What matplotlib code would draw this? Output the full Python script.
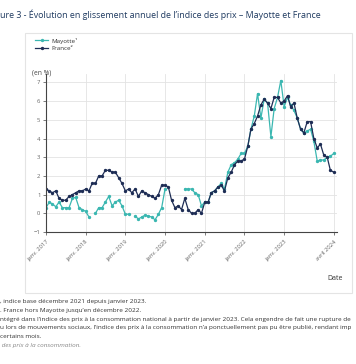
import numpy as np
import pandas as pd
import matplotlib
matplotlib.use('Agg')
import matplotlib.pyplot as plt
from matplotlib.patches import Rectangle

plt.rcParams['font.family'] = ['Open Sans', 'DejaVu Sans']

nan = np.nan

# monthly, janv. 2017 -> avril 2024
months = pd.date_range('2017-01-01', '2024-04-01', freq='MS')

france = [
    1.3, 1.2, 1.1, 1.2, 0.8, 0.7, 0.7, 0.9, 1.0, 1.1, 1.2, 1.2,
    1.3, 1.2, 1.6, 1.6, 2.0, 2.0, 2.3, 2.3, 2.2, 2.2, 1.9, 1.6,
    1.2, 1.3, 1.1, 1.3, 0.9, 1.2, 1.1, 1.0, 0.9, 0.8, 1.0, 1.5,
    1.5, 1.4, 0.7, 0.3, 0.4, 0.2, 0.8, 0.2, 0.0, 0.0, 0.2, 0.0,
    0.6, 0.6, 1.1, 1.2, 1.4, 1.5, 1.2, 1.9, 2.2, 2.6, 2.8, 2.8,
    2.9, 3.6, 4.5, 4.8, 5.2, 5.8, 6.1, 5.9, 5.6, 6.2, 6.2, 5.9,
    6.0, 6.3, 5.7, 5.9, 5.1, 4.5, 4.3, 4.9, 4.9, 4.0, 3.5, 3.7,
    3.1, 3.0, 2.3, 2.2,
]

mayotte = [
    0.3, 0.6, 0.5, 0.35, 0.6, 0.3, 0.3, 0.3, 0.8, 0.85, 0.3, 0.2,
    0.1, -0.2, nan, 0.0, 0.3, 0.3, 0.6, 0.9, 0.4, 0.6, 0.7, 0.4,
    -0.05, -0.05, nan, -0.15, -0.3, -0.2, -0.1, -0.15, -0.2, -0.35, -0.05, 0.3,
    1.3, nan, nan, nan, nan, nan, 1.3, 1.3, 1.3, 1.1, 1.0, 0.4,
    0.6, 0.6, 1.1, 1.2, 1.4, 1.6, 1.3, 2.2, 2.6, 2.7, 2.9, 3.2,
    3.2, 3.6, 4.5, 5.2, 6.4, 5.1, 6.1, 5.9, 4.1, 5.6, 6.2, 7.1,
    5.7, 6.2, 5.8, 5.5, 5.1, 4.5, 4.3, 4.4, 4.5, 3.85, 2.8, 2.85,
    2.85, 3.0, 3.05, 3.2,
]

tick_dates = ['2017-01-01', '2018-01-01', '2019-01-01', '2020-01-01',
              '2021-01-01', '2022-01-01', '2023-01-01', '2024-04-01']
tick_labels = ['janv. 2017', 'janv. 2018', 'janv. 2019', 'janv. 2020',
               'janv. 2021', 'janv. 2022', 'janv. 2023', 'avril 2024']

title = "ure 3 - Évolution en glissement annuel de l’indice des prix – Mayotte et France"
notes = [
    ", indice base décembre 2021 depuis janvier 2023.",
    ". France hors Mayotte jusqu’en décembre 2022.",
    "ntégré dans l’indice des prix à la consommation national à partir de janvier 2023. Cela engendre de fait une rupture de",
    "u lors de mouvements sociaux, l’indice des prix à la consommation n’a ponctuellement pas pu être publié, rendant imp",
    "certains mois.",
]
source = " des prix à la consommation."

c_may = '#3bb7b1'
c_fra = '#1e2d55'
W, H = 356, 364

fig = plt.figure(figsize=(W / 100, H / 100), dpi=100)

def fx(px):
    return px / W

def fy(py):
    return 1 - py / H

# chart panel
fig.patches.append(Rectangle((fx(25), fy(293)), fx(352) - fx(25), fy(33) - fy(293),
                             transform=fig.transFigure, facecolor='white',
                             edgecolor='#e4e4e4', lw=0.8, zorder=-1))

ax = fig.add_axes([fx(46), fy(232), fx(337) - fx(46), fy(74) - fy(232)])
ax.set_zorder(2)
ax.patch.set_alpha(0)
ax.plot(months, mayotte, color=c_may, lw=0.9, marker='o', ms=1.4, label='Mayotte¹')
ax.plot(months, france, color=c_fra, lw=0.9, marker='o', ms=1.4, label='France²')

ax.set_xlim(pd.Timestamp('2017-01-01'), pd.Timestamp('2024-05-01'))
ax.set_ylim(-1, 7.45)
ax.set_yticks(range(-1, 8))
ax.set_xticks(pd.to_datetime(tick_dates))
ax.set_xticklabels(tick_labels, rotation=45, ha='right', rotation_mode='anchor')
ax.tick_params(axis='both', labelsize=4.2, colors='#666666', length=2, width=0.6, pad=2)
ax.tick_params(axis='x', pad=3)
ax.grid(True, color='#e3e3e3', lw=0.6)
ax.set_axisbelow(True)
for s in ['top', 'right']:
    ax.spines[s].set_visible(False)
for s in ['left', 'bottom']:
    ax.spines[s].set_color('#444444')
    ax.spines[s].set_linewidth(0.8)

ax.legend(loc='upper left', bbox_to_anchor=(fx(29), fy(32)), bbox_transform=fig.transFigure,
          frameon=False, fontsize=4.5, handlelength=2.2, handletextpad=0.5,
          labelspacing=0.3, labelcolor='#333333')

fig.text(fx(32), fy(73), '(en %)', fontsize=4.8, color='#444444', va='center')
fig.text(fx(343), fy(279), 'Date', fontsize=5.0, color='#333333', ha='right', va='center')

fig.text(fx(0), fy(15), title, fontsize=6.4, color='#1f3a60', va='center')

for i, line in enumerate(notes):
    fig.text(fx(0), fy(302 + i * 8.6), line, fontsize=4.55, color='#333333', va='center')
fig.text(fx(0), fy(345), source, fontsize=4.55, color='#888888', style='italic', va='center')

fig.savefig('out.png', dpi=100, facecolor='white')
